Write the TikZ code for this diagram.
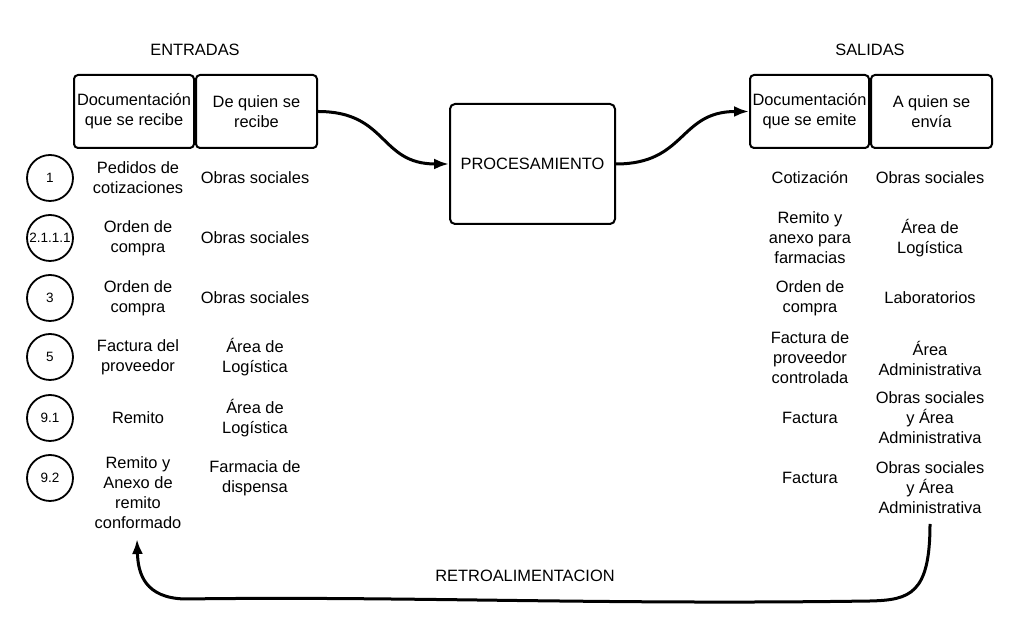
\documentclass[tikz,border=0pt]{standalone}
\usepackage{fontspec}
\setmainfont{Liberation Sans}
\usetikzlibrary{arrows.meta,positioning}
\definecolor{Ink}{HTML}{000000}
\tikzset{
  head/.style={draw=Ink,line width=2pt,rounded corners=4pt,minimum height=73pt,align=center,inner sep=2pt},
  procbox/.style={draw=Ink,line width=2pt,rounded corners=5pt,minimum width=165pt,minimum height=120pt,align=center},
  num/.style={circle,draw=Ink,line width=1.8pt,minimum size=46pt,inner sep=0pt,font=\fontsize{13.5}{15}\selectfont},
  cell/.style={align=center,inner sep=0pt},
  title/.style={inner sep=0pt},
  flow/.style={-{Latex[length=15pt,width=11pt]},draw=Ink,line width=3pt}
}

\begin{document}
\begin{tikzpicture}[x=1pt,y=1pt,font=\fontsize{16.4}{20}\selectfont]
        \useasboundingbox (0,0) rectangle (1020,634);
        % entradas
        \node[title] (tin) at (195,584) {ENTRADAS};
        \node[head,minimum width=120pt] (hin1) at (134,522.5) {Documentación\\que se recibe};
        \node[head,minimum width=121pt,right=0pt of hin1] (hin2) {De quien se\\recibe};
        \node[num] (c1) at (50,456) {1};
        \node[num] (c2) at (50,396) {2.1.1.1};
        \node[num] (c3) at (50,336) {3};
        \node[num] (c4) at (50,277) {5};
        \node[num] (c5) at (50,216) {9.1};
        \node[num] (c6) at (50,156) {9.2};
        \node[cell] (ia1) at (138,456) {Pedidos de\\cotizaciones};
        \node[cell] (ib1) at (255,456) {Obras sociales};
        \node[cell] (ia2) at (138,396) {Orden de\\compra};
        \node[cell] (ib2) at (255,396) {Obras sociales};
        \node[cell] (ia3) at (138,336) {Orden de\\compra};
        \node[cell] (ib3) at (255,336) {Obras sociales};
        \node[cell] (ia4) at (138,277) {Factura del\\proveedor};
        \node[cell] (ib4) at (255,277) {Área de\\Logística};
        \node[cell] (ia5) at (138,216) {Remito};
        \node[cell] (ib5) at (255,216) {Área de\\Logística};
        \node[cell] (ia6) at (138,141) {Remito y\\Anexo de\\remito\\conformado};
        \node[cell] (ib6) at (255,156) {Farmacia de\\dispensa};
        % procesamiento
        \node[procbox] (proc) at (532.5,470) {PROCESAMIENTO};
        % salidas
        \node[title] (tout) at (870,584) {SALIDAS};
        \node[head,minimum width=119pt] (hout1) at (809.5,522.5) {Documentación\\que se emite};
        \node[head,minimum width=121pt,right=0pt of hout1] (hout2) {A quien se\\envía};
        \node[cell] (oa1) at (810,456) {Cotización};
        \node[cell] (ob1) at (930,456) {Obras sociales};
        \node[cell] (oa2) at (810,396) {Remito y\\anexo para\\farmacias};
        \node[cell] (ob2) at (930,396) {Área de\\Logística};
        \node[cell] (oa3) at (810,336) {Orden de\\compra};
        \node[cell] (ob3) at (930,336) {Laboratorios};
        \node[cell] (oa4) at (810,276) {Factura de\\proveedor\\controlada};
        \node[cell] (ob4) at (930,276) {Área\\Administrativa};
        \node[cell] (oa5) at (810,216) {Factura};
        \node[cell] (ob5) at (930,216) {Obras sociales\\y Área\\Administrativa};
        \node[cell] (oa6) at (810,156) {Factura};
        \node[cell] (ob6) at (930,146) {Obras sociales\\y Área\\Administrativa};
        % flujo
        \draw[flow] (hin2.east) .. controls +(70,0) and +(-70,0) .. (proc.west);
        \draw[flow] (proc.east) .. controls +(70,0) and +(-70,0) .. (hout1.west);
        % retroalimentacion
        \coordinate (fbs) at (930,110);
        \coordinate (fbe) at (137,95);
        \node[title] (fbl) at (525,58) {RETROALIMENTACION};
        \draw[flow] (fbs) .. controls (930,40) and (910,34) .. (870,33)
          .. controls (600,29) and (400,38) .. (185,35)
          .. controls (145,36) and (138,60) .. (fbe);
      \end{tikzpicture}
\end{document}
